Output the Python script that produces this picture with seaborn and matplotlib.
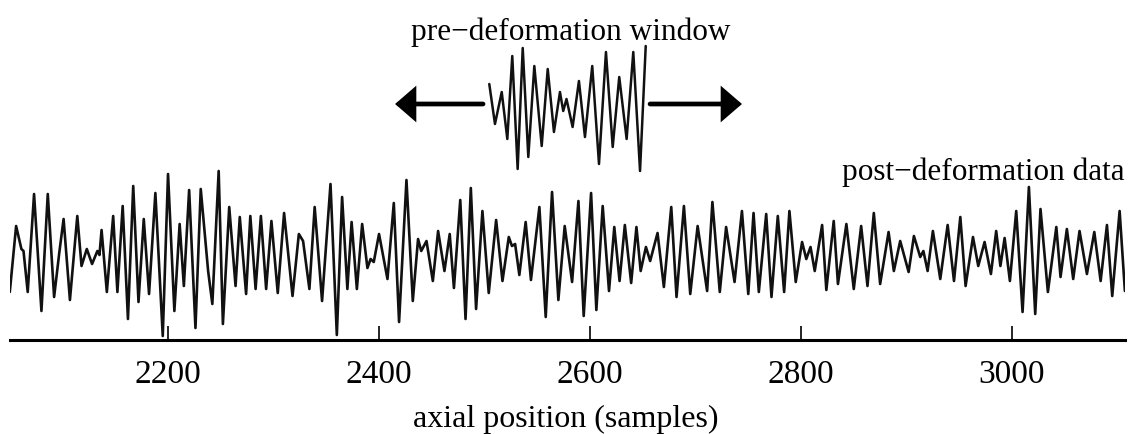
import numpy as np
import pandas as pd
import matplotlib
matplotlib.use("Agg")
import matplotlib.pyplot as plt
import seaborn as sns
from matplotlib.patches import FancyArrowPatch

# ---- data ----
post_samples = [2050, 2056, 2061, 2063, 2067, 2073, 2080, 2086, 2092, 2097, 2101, 2107, 2114, 2118,
                2123, 2128, 2133, 2135, 2137, 2142, 2148, 2152, 2157, 2162, 2167, 2172, 2177,
                2182, 2188, 2195, 2200, 2206, 2211, 2215, 2220, 2226, 2231, 2238, 2242, 2248,
                2252, 2258, 2264, 2268, 2274, 2278, 2283, 2288, 2293, 2298, 2304, 2310,
                2318, 2324, 2328, 2334, 2339, 2346, 2354, 2360, 2365, 2370, 2374, 2379, 2384,
                2389, 2392, 2395, 2400, 2408, 2414, 2419, 2426, 2432, 2437, 2440,
                2445, 2451, 2456, 2462, 2467, 2471, 2477, 2482, 2487, 2492, 2498, 2504, 2511,
                2517, 2523, 2526, 2529, 2533, 2539, 2544, 2552, 2558, 2564, 2570, 2576,
                2583, 2589, 2594, 2601, 2606, 2612, 2618, 2623, 2628, 2633, 2639, 2644, 2648,
                2653, 2657, 2664, 2670, 2677, 2682, 2689, 2695, 2702,
                2711, 2716, 2723, 2729, 2737, 2744, 2750, 2755, 2760, 2767, 2772, 2778, 2784,
                2789, 2795, 2801, 2805, 2809, 2813, 2820, 2824, 2831, 2835, 2843,
                2850, 2857, 2863, 2869, 2875, 2883, 2888, 2894, 2902, 2907, 2913, 2916, 2920,
                2925, 2932, 2939, 2945, 2951, 2956, 2963, 2968, 2974,
                2980, 2985, 2989, 2993, 2998, 3004, 3010, 3016, 3022, 3027, 3034, 3042, 3046,
                3052, 3058, 3064, 3071, 3078, 3084, 3090, 3095, 3102, 3107]
post_values = [-38, 28, 5, 3, -38, 60, -57, 60, -43, 2, 35, -46, 38, -12,
               5, -10, 3, -1, 24, -38, 38, -38, 48, -65, 68, -48, 35,
               -40, 61, -82, 80, -57, 30, -32, 64, -74, 65, -17, -50, 83,
               -70, 47, -32, 37, -40, 38, -35, 38, -35, 33, -39, 41,
               -42, 20, 13, -35, 47, -47, 70, -81, 57, -35, 32, -35, 30,
               -14, -5, -8, 20, -25, 51, -68, 74, -47, 15, 3,
               13, -27, 23, -17, 20, -34, 54, -65, 66, -55, 43, -39, 34,
               -27, 17, 8, 10, -21, 32, -26, 47, -63, 62, -46, 28,
               -28, 53, -62, 61, -56, 48, -37, 27, -27, 29, -29, 27, -17,
               7, -7, 21, -33, 47, -43, 48, -40, 28,
               -37, 52, -38, 27, -28, 43, -40, 41, -38, 40, -43, 38, -38,
               43, -28, 12, -5, 7, -17, 29, -36, 33, -30, 30,
               -35, 28, -32, 41, -30, 22, -17, 13, -18, 18, -3, 3, -17,
               23, -25, 29, -27, 37, -32, 17, -12, 12,
               -20, 23, -12, 16, -27, 43, -58, 67, -60, 45, -38, 27, -23,
               25, -25, 23, -20, 22, -27, 29, -42, 43, -37]

win_offsets = [0, 5.4, 11.8, 17.1, 21.8, 26.9, 31.7, 37, 42.7, 49.7, 55.4, 61.3, 67, 70.1,
               73.2, 79, 85, 90.7, 97.6, 104, 110.6, 117, 123.2, 130.2, 136.5, 142.9, 148.3]
win_values = [22, -18, 14, -33, 50, -63, 58, -51, 40, -40, 37, -26, 14, -5,
              7, -21, 25, -31, 40, -58, 54, -41, 29, -33, 54, -65, 60]

tick_values = [2200, 2400, 2600, 2800, 3000]
tick_labels = ["2200", "2400", "2600", "2800", "3000"]
xlabel_text = "axial position (samples)"
window_label = "pre\u2212deformation window"
post_label = "post\u2212deformation data"

# ---- style ----
sns.set_theme(style="white")
plt.rcParams['font.family'] = ['Liberation Serif', 'DejaVu Serif']

W, H = 1132, 435
fig = plt.figure(figsize=(W / 100, H / 100), dpi=100)
ax_l, ax_r, ax_t, ax_b = 10, 1125, 0, 341
ax = fig.add_axes([ax_l / W, (H - ax_b) / H, (ax_r - ax_l) / W, (ax_b - ax_t) / H])

post_df = pd.DataFrame({"sample": post_samples, "value": post_values})
win_x0, win_y0 = 2504.5, 148
win_df = pd.DataFrame({"sample": np.array(win_offsets) + win_x0,
                       "value": np.array(win_values) + win_y0})

line_kw = dict(color="#111111", estimator=None, sort=False,
               solid_joinstyle="round", solid_capstyle="round")
sns.lineplot(data=post_df, x="sample", y="value", ax=ax, lw=1.9, **line_kw)
sns.lineplot(data=win_df, x="sample", y="value", ax=ax, lw=1.8, **line_kw)

ax.set_xlim(2050.2, 3107.1)
ax.set_ylim(-86, 255)

# arrows
arrow_y = 150
for x_start, x_end in [(2498.6, 2415.2), (2656.9, 2744.0)]:
    arr = FancyArrowPatch((x_start, arrow_y), (x_end, arrow_y),
                          arrowstyle="-|>,head_length=11,head_width=9.5",
                          mutation_scale=1, lw=3.4, color="black",
                          shrinkA=0, shrinkB=0, joinstyle="miter")
    ax.add_patch(arr)

# texts
ax.text(2582, 215, window_label, ha="center", va="baseline", fontsize=22.5, color="black")
ax.text(3107, 75, post_label, ha="right", va="baseline", fontsize=22.5, color="black")

# axes styling
for side in ["left", "right", "top"]:
    ax.spines[side].set_visible(False)
ax.spines["bottom"].set_linewidth(2.2)
ax.spines["bottom"].set_color("black")
ax.set_yticks([])
ax.set_xticks(tick_values)
ax.set_xticklabels(tick_labels)
ax.tick_params(axis="x", direction="in", length=10, width=1.2, colors="black",
               labelsize=24, pad=13, bottom=True)
ax.set_ylabel("")
ax.set_xlabel(xlabel_text, fontsize=23, color="black", va="baseline")
ax.xaxis.set_label_coords((566 - ax_l) / (ax_r - ax_l), (ax_b - 427) / (ax_b - ax_t))
ax.patch.set_alpha(0)

fig.savefig("out.png", dpi=100)
